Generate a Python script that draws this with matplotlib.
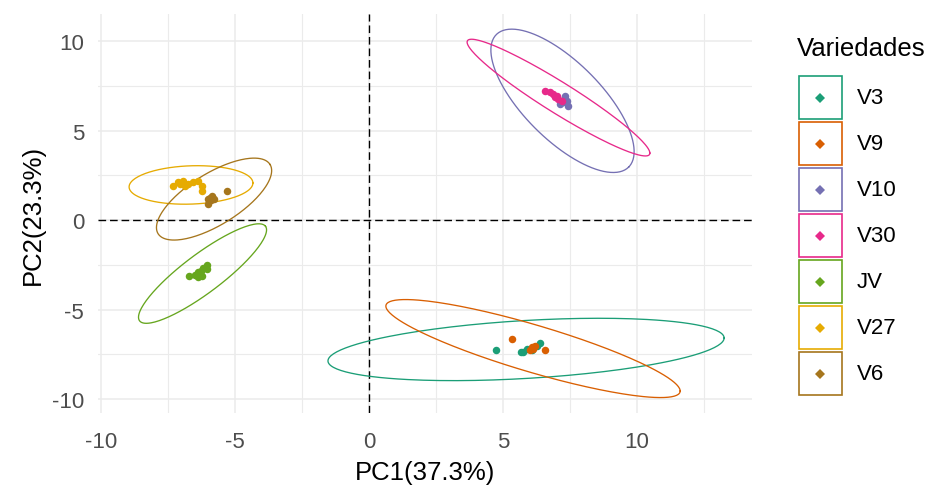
import numpy as np
import matplotlib
matplotlib.use("Agg")
import matplotlib.pyplot as plt
from matplotlib.patches import Rectangle
from matplotlib.lines import Line2D

plt.rcParams['font.family'] = ['Liberation Sans', 'DejaVu Sans']
plt.rcParams['axes.unicode_minus'] = False

# groups and Dark2 colours
groups = ['V3', 'V9', 'V10', 'V30', 'JV', 'V27', 'V6']
colors = ['#1B9E77', '#D95F02', '#7570B3', '#E7298A', '#66A61E', '#E6AB02', '#A6761D']

# individual scores (PC1, PC2)
pc1 = {
    'V3':  [4.74, 5.76, 5.88, 6.07, 6.38, 6.26, 5.69],
    'V9':  [5.35, 6.07, 6.13, 5.99, 6.57, 6.19],
    'V10': [7.31, 7.38, 7.44, 7.25, 7.13],
    'V30': [6.57, 6.75, 6.88, 7.00, 7.06, 7.19, 6.94],
    'JV':  [-6.70, -6.49, -6.37, -6.28, -6.18, -6.03, -6.06, -6.24, -6.37],
    'V27': [-7.30, -7.11, -6.93, -6.74, -6.56, -6.37, -6.24, -6.24, -6.87, -7.05],
    'V6':  [-5.95, -5.85, -5.80, -5.90, -6.00, -6.00, -5.31],
}
pc2 = {
    'V3':  [-7.24, -7.36, -7.21, -7.24, -6.87, -7.02, -7.39],
    'V9':  [-6.65, -7.11, -7.21, -7.24, -7.24, -7.02],
    'V10': [6.94, 6.66, 6.39, 6.58, 6.48],
    'V30': [7.22, 7.13, 7.04, 6.94, 6.76, 6.66, 6.85],
    'JV':  [-3.15, -3.07, -2.92, -2.83, -2.70, -2.51, -2.74, -3.11, -3.20],
    'V27': [1.92, 2.10, 2.20, 2.01, 2.10, 2.20, 1.92, 1.64, 1.92, 2.01],
    'V6':  [1.25, 1.35, 1.20, 1.10, 1.15, 0.89, 1.64],
}

# confidence ellipses: centre + two conjugate semi-axis vectors (data units)
ell_cx = [5.86, 6.12, 7.22, 7.07, -6.21, -6.64, -5.78]
ell_cy = [-7.23, -7.18, 6.66, 6.84, -2.99, 1.96, 1.17]
ell_ux = [7.39, 5.49, 2.47, 3.41, 2.35, 2.31, 2.09]
ell_uy = [0.64, -2.37, -3.70, -3.10, 2.64, 0.11, 1.93]
ell_vx = [0.00, 0.00, -1.02, 0.00, 0.43, 0.00, 0.50]
ell_vy = [1.62, 1.37, -1.53, 1.01, -0.87, 1.07, -1.23]

W, H = 945, 489
fig = plt.figure(figsize=(W / 100, H / 100), dpi=100)
ax = fig.add_axes([98 / W, 1 - 414 / H, (752 - 98) / W, (414 - 15) / H])

ax.set_xlim(-10.11, 14.29)
ax.set_ylim(-10.78, 11.51)
ax.set_xticks([-10, -5, 0, 5, 10])
ax.set_yticks([-10, -5, 0, 5, 10])
ax.set_xticks([-7.5, -2.5, 2.5, 7.5, 12.5], minor=True)
ax.set_yticks([-7.5, -2.5, 2.5, 7.5], minor=True)
ax.grid(True, which='major', color='#EBEBEB', linewidth=1.1)
ax.grid(True, which='minor', color='#EBEBEB', linewidth=0.8)
ax.set_axisbelow(True)
for s in ax.spines.values():
    s.set_visible(False)
ax.tick_params(which='both', length=0, labelsize=16, labelcolor='#4D4D4D')
ax.tick_params(axis='x', pad=13)
ax.tick_params(axis='y', pad=10)

ax.axhline(0, color='black', linewidth=1.0, linestyle=(0, (5.5, 2.8)), zorder=1)
ax.axvline(0, color='black', linewidth=1.0, linestyle=(0, (5.5, 2.8)), zorder=1)

t = np.linspace(0, 2 * np.pi, 200)
for i, g in enumerate(groups):
    ex = ell_cx[i] + ell_ux[i] * np.cos(t) + ell_vx[i] * np.sin(t)
    ey = ell_cy[i] + ell_uy[i] * np.cos(t) + ell_vy[i] * np.sin(t)
    ax.plot(ex, ey, color=colors[i], linewidth=0.95, zorder=2)

for i, g in enumerate(groups):
    ax.plot(pc1[g], pc2[g], 'o', color=colors[i], markersize=5.4,
            markeredgewidth=0, zorder=3)

ax.set_xlabel('PC1(37.3%)', fontsize=18.5, labelpad=6)
ax.set_ylabel('PC2(23.3%)', fontsize=18.5, labelpad=5)

# legend drawn in pixel space
fig.text(797 / W, 1 - 49 / H, 'Variedades', fontsize=18.5, va='center', ha='left')
for i, g in enumerate(groups):
    top = 77 + i * 46
    fig.patches.append(Rectangle((799 / W, 1 - (top + 43) / H), 43 / W, 43 / H,
                                 transform=fig.transFigure, facecolor='white',
                                 edgecolor=colors[i], linewidth=1.2))
    fig.lines.append(Line2D([820.5 / W], [1 - (top + 21.5) / H], marker='D',
                            color=colors[i], markersize=4.6, markeredgewidth=0,
                            transform=fig.transFigure))
    fig.text(857 / W, 1 - (top + 22) / H, g, fontsize=16, va='center', ha='left')

fig.savefig('out.png', dpi=100)
